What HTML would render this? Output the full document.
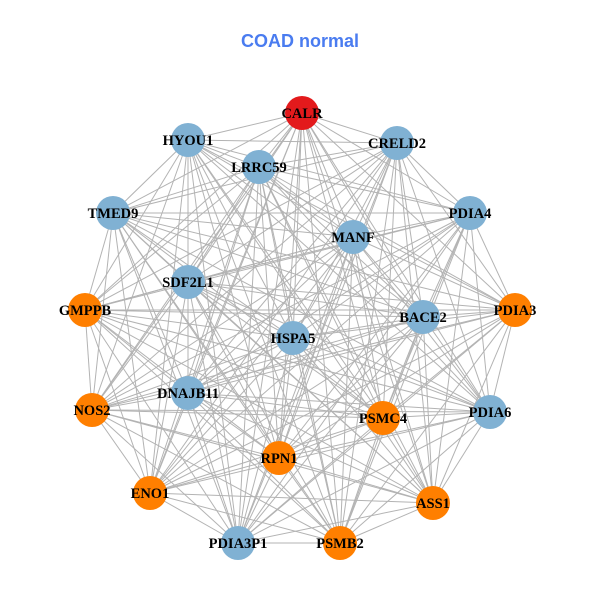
<!DOCTYPE html>
<html><head><meta charset="utf-8"><style>
html,body{margin:0;padding:0;background:#fff;width:600px;height:600px;overflow:hidden}
</style></head><body>
<svg id="g" width="600" height="600" xmlns="http://www.w3.org/2000/svg">
<rect width="600" height="600" fill="#fff"/>
<text x="300" y="47" text-anchor="middle" font-family="Liberation Sans, sans-serif" font-weight="bold" font-size="18" fill="#4A7CF0">COAD normal</text>
<g id="edges" stroke="#b3b3b3" stroke-width="1"></g>
<g id="nodes"></g>
</svg>
<script>
var B="#80B1D3",O="#FF7F00",R="#E31A1C";
var N=[["CALR",302,113,R],["HYOU1",188,140,B],["CRELD2",397,143,B],["LRRC59",259,167,B],["TMED9",113,213,B],["PDIA4",470,213,B],["MANF",353,237,B],["SDF2L1",188,282,B],["GMPPB",85,310,O],["PDIA3",515,310,O],["BACE2",423,317,B],["HSPA5",293,338,B],["DNAJB11",188,393,B],["NOS2",92,410,O],["PDIA6",490,412,B],["PSMC4",383,418,O],["RPN1",279,458,O],["ENO1",150,493,O],["ASS1",433,503,O],["PDIA3P1",238,543,B],["PSMB2",340,543,O]];
var ns="http://www.w3.org/2000/svg",e=document.getElementById("edges"),n=document.getElementById("nodes");
for(var i=0;i<N.length;i++)for(var j=i+1;j<N.length;j++){var l=document.createElementNS(ns,"line");l.setAttribute("x1",N[i][1]);l.setAttribute("y1",N[i][2]);l.setAttribute("x2",N[j][1]);l.setAttribute("y2",N[j][2]);e.appendChild(l);}
N.forEach(function(d){var c=document.createElementNS(ns,"circle");c.setAttribute("cx",d[1]);c.setAttribute("cy",d[2]);c.setAttribute("r",17);c.setAttribute("fill",d[3]);n.appendChild(c);});
N.forEach(function(d){var t=document.createElementNS(ns,"text");t.setAttribute("x",d[1]);t.setAttribute("y",d[2]+5);t.setAttribute("text-anchor","middle");t.setAttribute("font-family","Liberation Serif, serif");t.setAttribute("font-weight","bold");t.setAttribute("font-size","14.5");t.textContent=d[0];n.appendChild(t);});
</script>
</body></html>
